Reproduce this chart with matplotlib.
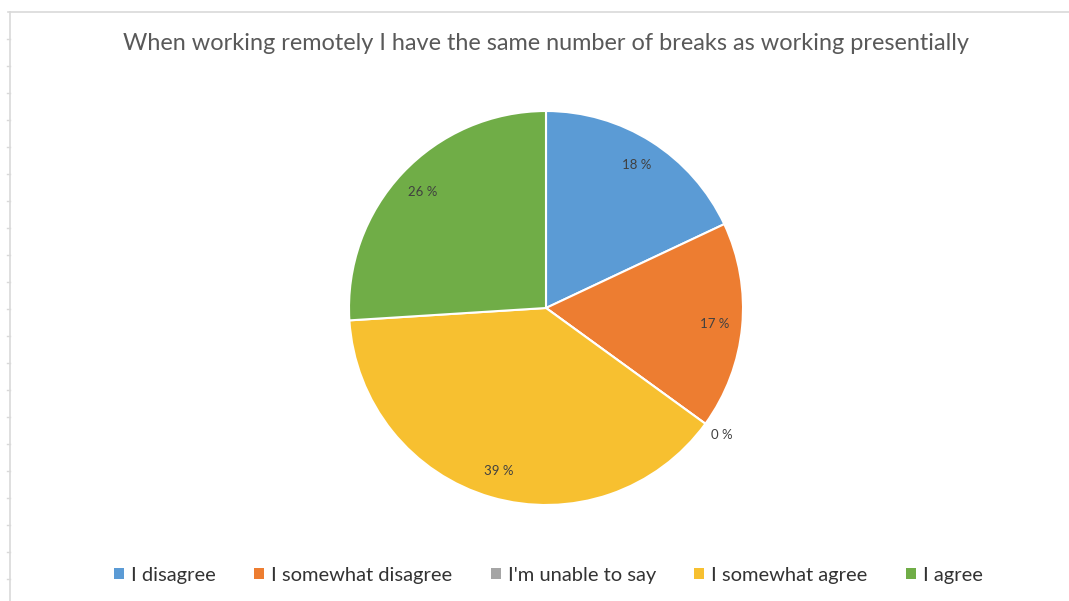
import matplotlib
matplotlib.use('Agg')
import matplotlib.pyplot as plt
from matplotlib.lines import Line2D
from matplotlib.patches import Patch
import numpy as np

plt.rcParams['font.family'] = ['Lato', 'DejaVu Sans']

TITLE = 'When working remotely I have the same number of breaks as working presentially'
answers = ['I disagree', 'I somewhat disagree', "I'm unable to say", 'I somewhat agree', 'I agree']
shares = [18, 17, 0, 39, 26]
colors = ['#5B9BD5', '#ED7D31', '#A5A5A5', '#F7C030', '#70AD47']

W, H = 1069, 601
fig = plt.figure(figsize=(W / 100, H / 100), dpi=100)
fig.patch.set_facecolor('white')

# sheet frame: top rule, left rule and the small row ticks
GRID = '#D9D9D9'
fig.add_artist(Line2D([8 / W, 1], [1 - 12 / H] * 2, color=GRID, lw=1.2))
fig.add_artist(Line2D([10 / W] * 2, [0, 1 - 12 / H], color=GRID, lw=1.2))
y = 39
while y < H:
    fig.add_artist(Line2D([7 / W, 10 / W], [1 - y / H] * 2, color=GRID, lw=1))
    y += 27

cx, cy, r = 546, 308, 197
ax = fig.add_axes([(cx - r) / W, (H - cy - r) / H, 2 * r / W, 2 * r / H])
wedges, _ = ax.pie(shares, colors=colors, startangle=90, counterclock=False,
                   wedgeprops=dict(edgecolor='white', linewidth=1.5))
ax.set_xlim(-1, 1)
ax.set_ylim(-1, 1)
ax.set_aspect('equal')
ax.axis('off')

# percentage labels inside each slice, empty slice labelled just outside the rim
total = sum(shares)
start = 90.0
for val in shares:
    sweep = 360.0 * val / total
    mid = np.deg2rad(start - sweep / 2)
    dist = 0.86 if val > 0 else 1.1
    ax.text(dist * np.cos(mid), dist * np.sin(mid), f'{val} %',
            ha='center', va='center', fontsize=9.5, color='#404040')
    start -= sweep

fig.text(cx / W, 1 - 44 / H, TITLE, ha='center', va='center',
         fontsize=16.9, color='#595959')

handles = [Patch(facecolor=c, edgecolor='none') for c in colors]
fig.legend(handles, answers, loc='center', bbox_to_anchor=(0.513, 1 - 575 / H),
           ncol=5, frameon=False, fontsize=14.5, handlelength=0.5, handleheight=0.5,
           handletextpad=0.35, columnspacing=1.9, labelcolor='#333333')

fig.savefig('out.png', dpi=100, facecolor='white')
